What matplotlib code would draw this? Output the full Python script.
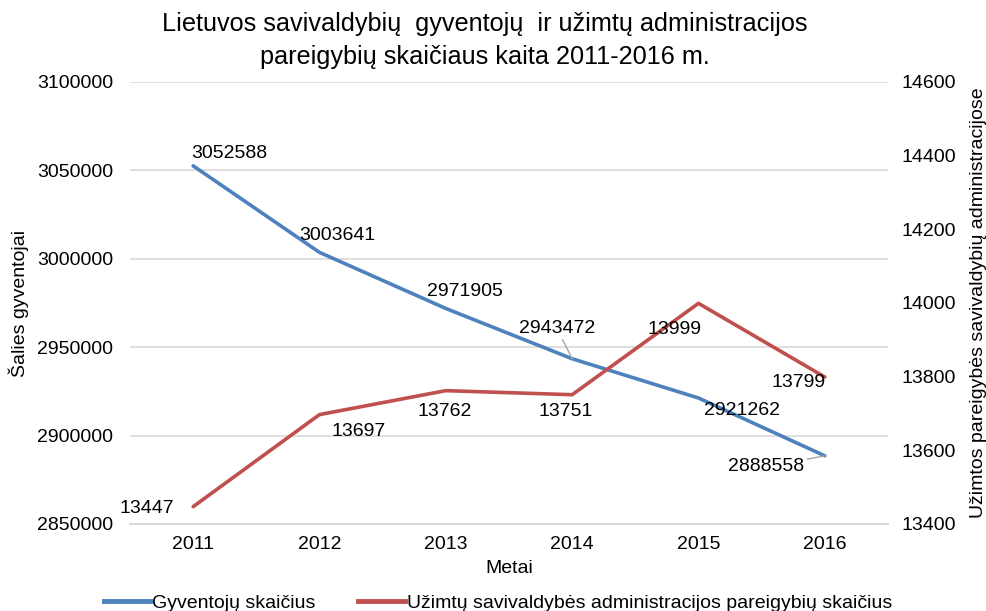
import matplotlib.pyplot as plt
from matplotlib.ticker import FuncFormatter

plt.rcParams['font.family'] = ['Liberation Sans', 'DejaVu Sans']

# data
years = ['2011', '2012', '2013', '2014', '2015', '2016']
population = [3052588, 3003641, 2971905, 2943472, 2921262, 2888558]
positions = [13447, 13697, 13762, 13751, 13999, 13799]

# label offsets (points) and whether a leader line is drawn
pop_offsets = [(26, 9), (13, 12), (14, 12), (-11, 22), (31, -9), (-42, -8)]
pop_leader = [False, False, False, True, False, True]
pos_offsets = [(-33, -1), (28, -12), (-1, -15), (-5, -12), (-17, -19), (-19, -4)]

blue = '#4F81BD'
red = '#C0504D'
grid_col = '#D9D9D9'
fs = 14

fig = plt.figure(figsize=(9.86, 6.11), dpi=100)
ax = fig.add_axes([0.1318, 0.1424, 0.7688, 0.7234])
ax2 = ax.twinx()

x = range(len(years))
ax.plot(x, population, color=blue, lw=2.6, solid_capstyle='round', zorder=3)
ax2.plot(x, positions, color=red, lw=2.6, solid_capstyle='round', zorder=3)

ax.set_xlim(-0.5, len(years) - 0.5)
ax.set_ylim(2850000, 3100000)
ax.set_yticks(range(2850000, 3100001, 50000))
ax.yaxis.set_major_formatter(FuncFormatter(lambda v, p: '%d' % v))
ax2.set_ylim(13400, 14600)
ax2.set_yticks(range(13400, 14601, 200))
ax.set_xticks(list(x))
ax.set_xticklabels(years)

ax.yaxis.grid(True, color=grid_col, lw=1.2)
ax.set_axisbelow(True)
for a in (ax, ax2):
    for s in ['top', 'left', 'right']:
        a.spines[s].set_visible(False)
    a.spines['bottom'].set_color(grid_col)
    a.spines['bottom'].set_linewidth(1.2)
    a.tick_params(length=0, labelsize=fs, colors='black')
ax.tick_params(axis='y', pad=12)
ax.tick_params(axis='x', pad=9)
ax2.tick_params(axis='y', pad=10)

ax.set_xlabel('Metai', fontsize=fs, labelpad=5)
ax.set_ylabel('Šalies gyventojai', fontsize=fs, labelpad=6)
ax2.set_ylabel('Užimtos pareigybės savivaldybių administracijose', fontsize=fs,
               rotation=90, labelpad=10)

for i, v in enumerate(population):
    ap = dict(arrowstyle='-', color='#A6A6A6', lw=1, shrinkA=0, shrinkB=0) if pop_leader[i] else None
    ax.annotate(str(v), (i, v), xytext=pop_offsets[i], textcoords='offset points',
                ha='center', va='center', fontsize=fs, arrowprops=ap, zorder=5)
for i, v in enumerate(positions):
    ax2.annotate(str(v), (i, v), xytext=pos_offsets[i], textcoords='offset points',
                 ha='center', va='center', fontsize=fs, zorder=5)

fig.text(0.492, 0.961, 'Lietuvos savivaldybių  gyventojų  ir užimtų administracijos',
         ha='center', va='center', fontsize=18.2)
fig.text(0.492, 0.907, 'pareigybių skaičiaus kaita 2011-2016 m.',
         ha='center', va='center', fontsize=18.2)

h1, = ax.plot([], [], color=blue, lw=3.5)
h2, = ax.plot([], [], color=red, lw=3.5)
fig.legend([h1, h2], ['Gyventojų skaičius',
                      'Užimtų savivaldybės administracijos pareigybių skaičius'],
           loc='center', bbox_to_anchor=(0.505, 0.013), ncol=2, frameon=False,
           fontsize=fs, handlelength=2.4, handletextpad=0.1, columnspacing=2.2)

fig.savefig('out.png', dpi=100)
